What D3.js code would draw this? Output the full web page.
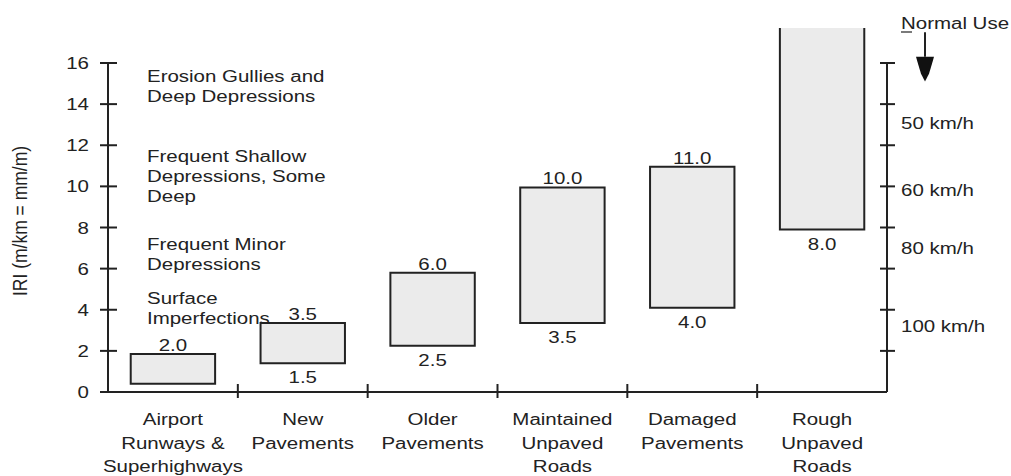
<!DOCTYPE html>
<html>
<head>
<meta charset="utf-8">
<script src="https://cdn.jsdelivr.net/npm/d3@7"></script>
<style>
  body { margin: 0; background: #fff; }
  text { font-family: "Liberation Sans", Arial, sans-serif; fill: #222; }
</style>
</head>
<body>
<div id="chart"></div>
<script>
// data
const categories = [
  ["Airport", "Runways &", "Superhighways"],
  ["New", "Pavements"],
  ["Older", "Pavements"],
  ["Maintained", "Unpaved", "Roads"],
  ["Damaged", "Pavements"],
  ["Rough", "Unpaved", "Roads"]
];
const barLow  = [0.4, 1.4, 2.25, 3.35, 4.1, 7.9];
const barHigh = [1.85, 3.35, 5.8, 9.95, 10.95, 17.7];
const openTop = [false, false, false, false, false, true];
const topLabels    = ["2.0", "3.5", "6.0", "10.0", "11.0", ""];
const bottomLabels = ["", "1.5", "2.5", "3.5", "4.0", "8.0"];

const yTicks = [0, 2, 4, 6, 8, 10, 12, 14, 16];
const rightTicks = [2, 4, 6, 8, 10, 12, 14, 16];
const speedLabels = ["50 km/h", "60 km/h", "80 km/h", "100 km/h"];
const speedIRI    = [13.1, 9.8, 7.0, 3.2];

const notes = [
  { lines: ["Erosion Gullies and", "Deep Depressions"], iri: 15.1 },
  { lines: ["Frequent Shallow", "Depressions, Some", "Deep"], iri: 11.2 },
  { lines: ["Frequent Minor", "Depressions"], iri: 6.9 },
  { lines: ["Surface", "Imperfections"], iri: 4.3 }
];

const W = 1011, H = 476;
const SX = 1.28; // the picture's text is stretched sideways
const X0 = 108, X1 = 887;

const svg = d3.select("#chart").append("svg")
  .attr("width", W).attr("height", H);

const x = d3.scaleBand()
  .domain(d3.range(categories.length))
  .range([X0, X1])
  .padding(0);

const y = d3.scaleLinear().domain([0, 16]).range([392, 63]);

function label(g, px, py, str, anchor) {
  return g.append("text")
    .attr("transform", `translate(${px},${py}) scale(${SX},1)`)
    .attr("text-anchor", anchor || "start")
    .attr("font-size", "16px")
    .text(str);
}

const ink = "#222";

// bars
const bw = x.bandwidth() * 0.65;
const bars = svg.append("g");
categories.forEach((c, i) => {
  const bx = x(i) + (x.bandwidth() - bw) / 2;
  const yt = y(barHigh[i]), yb = y(barLow[i]);
  bars.append("rect")
    .attr("x", bx).attr("y", yt)
    .attr("width", bw).attr("height", yb - yt)
    .attr("fill", "#ebebeb");
  const p = d3.path();
  if (openTop[i]) {
    p.moveTo(bx, yt); p.lineTo(bx, yb); p.lineTo(bx + bw, yb); p.lineTo(bx + bw, yt);
  } else {
    p.rect(bx, yt, bw, yb - yt);
  }
  bars.append("path").attr("d", p.toString())
    .attr("fill", "none").attr("stroke", ink).attr("stroke-width", 2);

  const cx = bx + bw / 2;
  if (topLabels[i]) label(bars, cx, yt - 3, topLabels[i], "middle");
  if (bottomLabels[i]) label(bars, cx, yb + 20, bottomLabels[i], "middle");
});

// left axis
const axes = svg.append("g").attr("stroke", ink).attr("stroke-width", 2);
axes.append("line").attr("x1", X0).attr("x2", X0).attr("y1", y(0)).attr("y2", y(16));
yTicks.forEach(t => {
  axes.append("line").attr("x1", X0 - 8).attr("x2", X0 + 9)
    .attr("y1", y(t)).attr("y2", y(t));
  label(svg, 89, y(t) + 6, String(t), "end");
});

// x axis with ticks at category boundaries
axes.append("line").attr("x1", X0).attr("x2", X1).attr("y1", y(0)).attr("y2", y(0));
d3.range(1, categories.length).forEach(i => {
  axes.append("line").attr("x1", x(i)).attr("x2", x(i))
    .attr("y1", y(0) - 8).attr("y2", y(0) + 6);
});
categories.forEach((lines, i) => {
  lines.forEach((ln, k) => {
    label(svg, x(i) + x.bandwidth() / 2, 425 + k * 23.5, ln, "middle");
  });
});

// right axis (speed)
axes.append("line").attr("x1", X1).attr("x2", X1).attr("y1", y(0)).attr("y2", y(16));
rightTicks.forEach(t => {
  axes.append("line").attr("x1", X1 - 7).attr("x2", X1 + 8)
    .attr("y1", y(t)).attr("y2", y(t));
});
speedLabels.forEach((s, i) => label(svg, 901, y(speedIRI[i]) + 6, s, "start"));

// normal use arrow
label(svg, 901, 29, "Normal Use", "start");
svg.append("line").attr("x1", 901).attr("x2", 912).attr("y1", 32).attr("y2", 32)
  .attr("stroke", ink).attr("stroke-width", 1.2);
const hTop = y(16.3), hBot = y(15.1);
svg.append("line").attr("x1", 925).attr("x2", 925).attr("y1", y(17.5)).attr("y2", hTop)
  .attr("stroke", ink).attr("stroke-width", 2);
svg.append("path")
  .attr("d", `M916,${hTop} L934,${hTop} L932,${hTop + 7} L929,${hTop + 17} L925,${hBot} L921,${hTop + 17} L918,${hTop + 7} Z`)
  .attr("fill", "#111");

// condition notes
notes.forEach(n => {
  n.lines.forEach((ln, k) => label(svg, 147, y(n.iri) + k * 20, ln, "start"));
});

// y title
svg.append("text")
  .attr("transform", `translate(27,221) rotate(-90) scale(1,1.15)`)
  .attr("text-anchor", "middle")
  .attr("font-size", "17.5px")
  .text("IRI (m/km = mm/m)");
</script>
</body>
</html>
